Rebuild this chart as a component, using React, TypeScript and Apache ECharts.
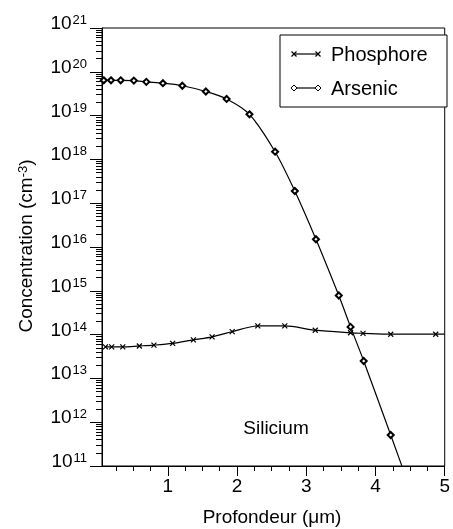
import React, { useEffect, useRef } from 'react';
import * as echarts from 'echarts';

// Depth (µm) and concentration (cm^-3)
const depthArsenic = [0.075, 0.18, 0.32, 0.51, 0.69, 0.93, 1.21, 1.55, 1.85, 2.18, 2.55, 2.835, 3.14, 3.47, 3.64, 3.83, 4.22, 4.6];
const arsenic = [6.4e19, 6.4e19, 6.4e19, 6.3e19, 5.9e19, 5.5e19, 4.8e19, 3.55e19, 2.4e19, 1.07e19, 1.5e18, 1.9e17, 1.5e16, 7.8e14, 1.5e14, 2.5e13, 5.1e11, 1.1e10];

const depthPhosphore = [0.1, 0.19, 0.35, 0.59, 0.8, 1.07, 1.37, 1.64, 1.93, 2.3, 2.69, 3.13, 3.64, 3.82, 4.22, 4.87, 5.0];
const phosphore = [5.25e13, 5.25e13, 5.25e13, 5.5e13, 5.75e13, 6.3e13, 7.6e13, 8.9e13, 1.17e14, 1.58e14, 1.58e14, 1.26e14, 1.1e14, 1.07e14, 1.02e14, 1.02e14, 1.02e14];

const xMajorTicks = [1, 2, 3, 4, 5];
const xMinorTicks = [0.25, 0.5, 0.75, 1.25, 1.5, 1.75, 2.25, 2.5, 2.75, 3.25, 3.5, 3.75, 4.25, 4.5, 4.75];
const yExponents = [11, 12, 13, 14, 15, 16, 17, 18, 19, 20, 21];
const yMinorMultipliers = [2, 3, 4, 5, 6, 7, 8, 9];

const FONT = 'Liberation Sans, Arial, Helvetica, sans-serif';
const FS = 19;
const SUP = 13;

export default function App() {
  const ref = useRef<HTMLDivElement>(null);

  useEffect(() => {
    if (!ref.current) return;
    const chart = echarts.init(ref.current, null, { renderer: 'svg' });

    const yMinor: number[] = [];
    yExponents.slice(0, -1).forEach((n) => {
      yMinorMultipliers.forEach((k) => yMinor.push(n + Math.log10(k)));
    });

    const asData = depthArsenic.map((d, i) => [d, Math.log10(arsenic[i])]);
    const phData = depthPhosphore.map((d, i) => {
      const item: any = { value: [d, Math.log10(phosphore[i])] };
      if (i === depthPhosphore.length - 1) item.symbol = 'none';
      return item;
    });

    const xBase = {
      type: 'value',
      min: 0.05,
      max: 5,
      position: 'bottom',
      splitLine: { show: false },
    };
    const yBase = {
      type: 'value',
      min: 11,
      max: 21,
      interval: 1,
      position: 'left',
      splitLine: { show: false },
    };

    const option: any = {
      animation: false,
      grid: {
        left: 102,
        top: 28,
        right: 1,
        bottom: 63,
        show: true,
        borderColor: '#000',
        borderWidth: 1,
        backgroundColor: 'transparent',
      },
      xAxis: [
        {
          ...xBase,
          axisLine: { show: true, lineStyle: { color: '#000', width: 1 } },
          axisTick: { show: true, customValues: xMajorTicks, length: 10, lineStyle: { color: '#000', width: 1 } },
          axisLabel: {
            show: true,
            customValues: xMajorTicks,
            margin: 10,
            color: '#000',
            fontSize: FS,
            fontFamily: FONT,
          },
        },
        {
          ...xBase,
          axisLine: { show: false },
          axisTick: { show: true, customValues: xMinorTicks, length: 5, lineStyle: { color: '#000', width: 1 } },
          axisLabel: { show: false },
        },
      ],
      yAxis: [
        {
          ...yBase,
          axisLine: { show: true, lineStyle: { color: '#000', width: 1 } },
          axisTick: { show: true, length: 12, lineStyle: { color: '#000', width: 1 } },
          axisLabel: {
            show: true,
            margin: 15,
            color: '#000',
            fontFamily: FONT,
            padding: [0, 0, 11, 0],
            formatter: (v: number) => `{b|10}{s|${Math.round(v)}}`,
            rich: {
              b: { fontSize: FS, lineHeight: 19, verticalAlign: 'bottom', fontFamily: FONT, color: '#000' },
              s: { fontSize: SUP, lineHeight: 13, padding: [0, 0, 10, 1], verticalAlign: 'top', fontFamily: FONT, color: '#000' },
            },
          },
        },
        {
          ...yBase,
          axisLine: { show: false },
          axisTick: { show: true, customValues: yMinor, length: 6, lineStyle: { color: '#000', width: 1 } },
          axisLabel: { show: false },
        },
      ],
      series: [
        {
          name: 'Phosphore',
          type: 'line',
          xAxisIndex: 0,
          yAxisIndex: 0,
          data: phData,
          smooth: 0.3,
          symbol: 'path://M0,0L10,10M10,0L0,10',
          symbolSize: 5,
          lineStyle: { color: '#000', width: 1.2 },
          itemStyle: { color: '#000', borderColor: '#000', borderWidth: 1.2 },
          clip: true,
        },
        {
          name: 'Arsenic',
          type: 'line',
          xAxisIndex: 0,
          yAxisIndex: 0,
          data: asData,
          smooth: 0.3,
          symbol: 'emptyDiamond',
          symbolSize: 6,
          lineStyle: { color: '#000', width: 1.2 },
          itemStyle: { color: '#000', borderWidth: 1 },
          clip: true,
        },
      ],
      graphic: [
        // legend box
        {
          type: 'rect',
          z: 100,
          shape: { x: 280, y: 35, width: 167, height: 72 },
          style: { fill: '#fff', stroke: '#000', lineWidth: 1 },
        },
        { type: 'line', z: 101, shape: { x1: 294, y1: 54, x2: 318, y2: 54 }, style: { stroke: '#000', lineWidth: 1.2 } },
        { type: 'line', z: 101, shape: { x1: 291.5, y1: 51.5, x2: 296.5, y2: 56.5 }, style: { stroke: '#000', lineWidth: 1.2 } },
        { type: 'line', z: 101, shape: { x1: 291.5, y1: 56.5, x2: 296.5, y2: 51.5 }, style: { stroke: '#000', lineWidth: 1.2 } },
        { type: 'line', z: 101, shape: { x1: 315.5, y1: 51.5, x2: 320.5, y2: 56.5 }, style: { stroke: '#000', lineWidth: 1.2 } },
        { type: 'line', z: 101, shape: { x1: 315.5, y1: 56.5, x2: 320.5, y2: 51.5 }, style: { stroke: '#000', lineWidth: 1.2 } },
        {
          type: 'text', z: 101, x: 331, y: 54,
          style: { text: 'Phosphore', fontSize: 20, fontFamily: FONT, fill: '#000', align: 'left', verticalAlign: 'middle' },
        },
        { type: 'line', z: 101, shape: { x1: 294, y1: 88, x2: 318, y2: 88 }, style: { stroke: '#000', lineWidth: 1.2 } },
        { type: 'polygon', z: 102, shape: { points: [[294, 85], [297, 88], [294, 91], [291, 88]] }, style: { fill: '#fff', stroke: '#000', lineWidth: 1 } },
        { type: 'polygon', z: 102, shape: { points: [[318, 85], [321, 88], [318, 91], [315, 88]] }, style: { fill: '#fff', stroke: '#000', lineWidth: 1 } },
        {
          type: 'text', z: 101, x: 331, y: 88,
          style: { text: 'Arsenic', fontSize: 20, fontFamily: FONT, fill: '#000', align: 'left', verticalAlign: 'middle' },
        },
        // annotation
        {
          type: 'text', z: 101, x: 276, y: 427,
          style: { text: 'Silicium', fontSize: FS, fontFamily: FONT, fill: '#000', align: 'center', verticalAlign: 'middle' },
        },
        // x axis title
        {
          type: 'text', z: 101, x: 272, y: 516,
          style: { text: 'Profondeur (μm)', fontSize: FS, fontFamily: FONT, fill: '#000', align: 'center', verticalAlign: 'middle' },
        },
        // y axis title
        {
          type: 'text', z: 101, x: 25, y: 246, rotation: Math.PI / 2,
          style: {
            text: '{b|Concentration (cm}{s|-3}{b|)}',
            align: 'center',
            verticalAlign: 'middle',
            fill: '#000',
            rich: {
              b: { fontSize: FS, lineHeight: 19, verticalAlign: 'bottom', fontFamily: FONT, fill: '#000' },
              s: { fontSize: SUP, lineHeight: 13, padding: [0, 0, 8, 0], verticalAlign: 'top', fontFamily: FONT, fill: '#000' },
            },
          },
        },
      ],
    };

    chart.setOption(option);
    return () => chart.dispose();
  }, []);

  return <div ref={ref} style={{ position: 'fixed', left: 0, top: 0, width: 453, height: 529 }} />;
}
